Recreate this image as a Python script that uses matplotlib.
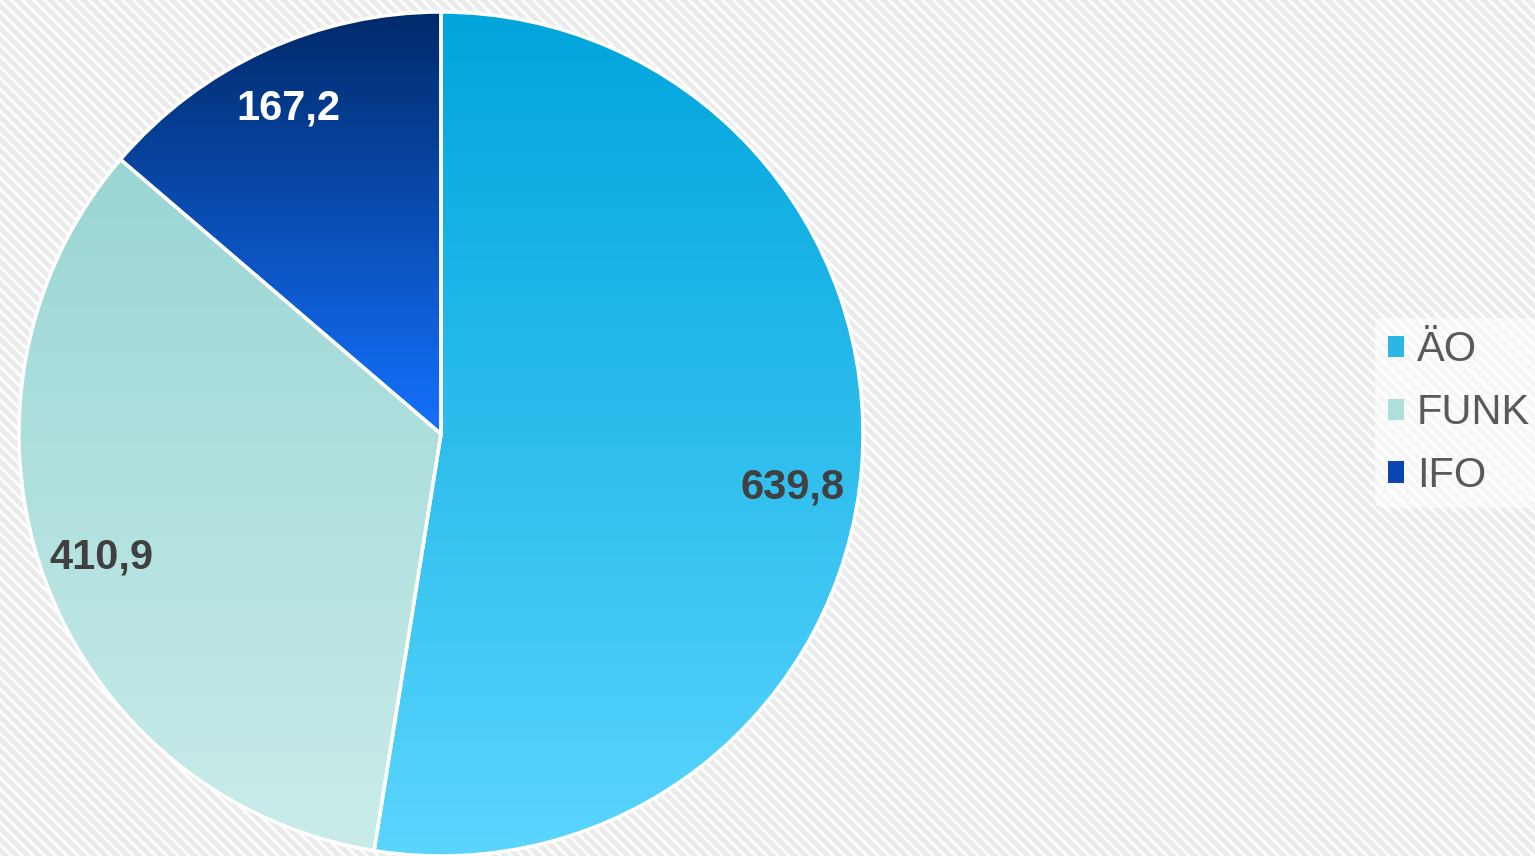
import numpy as np
import matplotlib
matplotlib.use("Agg")
import matplotlib.pyplot as plt
from matplotlib.patches import Patch, Rectangle
from matplotlib.colors import LinearSegmentedColormap

plt.rcParams['font.family'] = ['Liberation Sans', 'DejaVu Sans']

# data
labels = ['ÄO', 'FUNK', 'IFO']
values = [639.8, 410.9, 167.2]
top_colors = ['#00a5dc', '#9ad6d4', '#002a6a']
bottom_colors = ['#5ad5fe', '#c9ecea', '#1472ff']
legend_colors = ['#2cb6e8', '#aedfdd', '#0a45b0']
value_colors = ['#404040', '#404040', '#ffffff']
label_shift = [-4.0, 0.0, 0.0]  # degrees, nudge of value labels

W, H = 1535, 856
fig = plt.figure(figsize=(W / 100, H / 100), dpi=100)
fig.patch.set_facecolor('#eeeeee')

ax = fig.add_axes([0, 0, 1, 1])
ax.set_aspect('equal')

# hatched background
plt.rcParams['hatch.linewidth'] = 2.0
bg = Rectangle((0, 0), W, H, facecolor='#ebebeb', edgecolor='#ffffff',
               hatch='\\\\\\', linewidth=0, zorder=0)
ax.add_patch(bg)

cx, cy, r = 441, H - 434, 422
wedges, texts = ax.pie(values, center=(cx, cy), radius=r, startangle=90,
                       counterclock=False, frame=True,
                       wedgeprops=dict(edgecolor='white', linewidth=2.5))

for i, w in enumerate(wedges):
    w.set_facecolor('none')
    w.set_zorder(3)
    bb = w.get_path().get_extents(w.get_patch_transform())
    cmap = LinearSegmentedColormap.from_list('g%d' % i, [bottom_colors[i], top_colors[i]])
    grad = np.linspace(0, 1, 256).reshape(-1, 1)
    im = ax.imshow(grad, cmap=cmap, origin='lower', aspect='auto',
                   extent=[bb.x0, bb.x1, bb.y0, bb.y1], zorder=2)
    im.set_clip_path(w)

    # value label
    ang = np.deg2rad((w.theta1 + w.theta2) / 2 + label_shift[i])
    d = 0.85 * r
    ax.text(cx + d * np.cos(ang) - 3, cy + d * np.sin(ang),
            ('%.1f' % values[i]).replace('.', ','),
            ha='center', va='center', fontsize=30, fontweight='bold',
            color=value_colors[i], zorder=4)

ax.set_xlim(0, W)
ax.set_ylim(0, H)
ax.axis('off')

handles = [Patch(facecolor=c, edgecolor='none') for c in legend_colors]
leg = fig.legend(handles, labels, loc='center left',
                 bbox_to_anchor=(1375 / W, 1 - 413 / H),
                 fontsize=30, frameon=True, handlelength=0.4, handleheight=0.4,
                 handletextpad=0.3, labelspacing=0.55, borderpad=0.3,
                 borderaxespad=0)
leg.get_frame().set_facecolor('#ffffff')
leg.get_frame().set_alpha(0.6)
leg.get_frame().set_edgecolor('none')
for t in leg.get_texts():
    t.set_color('#595959')

fig.savefig('out.png', dpi=100, facecolor=fig.get_facecolor())
